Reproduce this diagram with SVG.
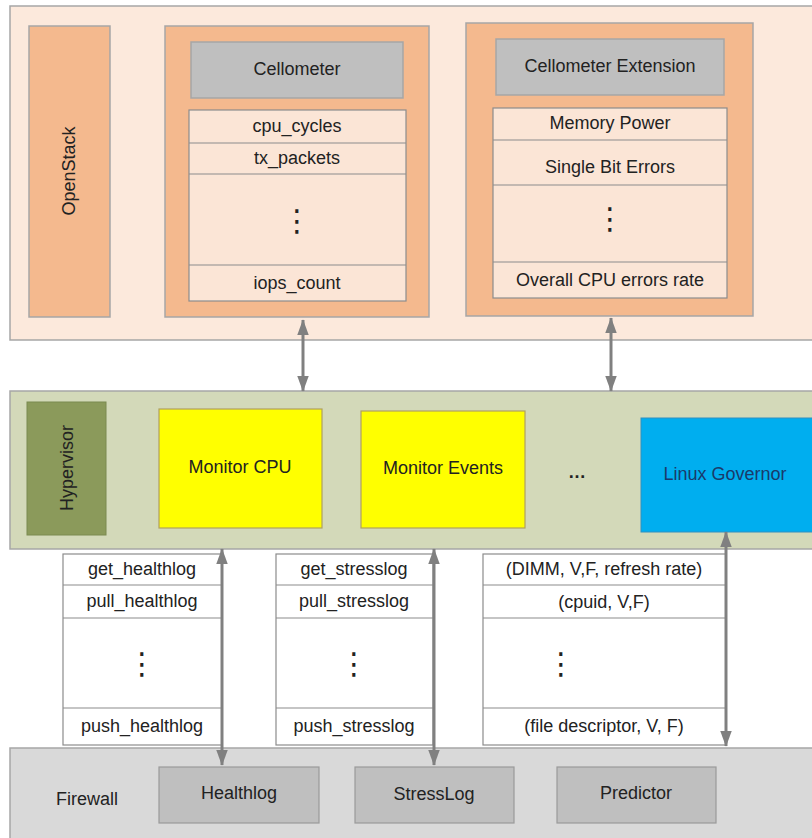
<svg xmlns="http://www.w3.org/2000/svg" width="812" height="838" viewBox="0 0 812 838">
<defs>
<marker id="ah" markerUnits="userSpaceOnUse" markerWidth="16" markerHeight="22" viewBox="0 0 22 16" refX="21" refY="8" orient="auto-start-reverse">
<path d="M0,0 L22,8 L0,16 Z" fill="#808080"/>
</marker>
</defs>
<style>
text{font-family:"Liberation Sans",Arial,sans-serif;font-size:18px;fill:#222;text-anchor:middle;dominant-baseline:central}
.dots{font-family:"DejaVu Sans",sans-serif;font-size:30px}
.layer{stroke:#a6a6a6;stroke-width:1.5}
.org{fill:#f4b98e;stroke:#a6a6a6;stroke-width:1.5}
.hdr{fill:#bfbfbf;stroke:#a6a6a6;stroke-width:1.5}
.lst{fill:#fbe5d6;stroke:#8c8c8c;stroke-width:1.2}
.wl{fill:#ffffff;stroke:#8c8c8c;stroke-width:1.2}
.sep{stroke:#8c8c8c;stroke-width:1.2}
.mon{fill:#ffff00;stroke:#b0a060;stroke-width:1.2}
.fw{fill:#bfbfbf;stroke:#9a9a9a;stroke-width:1.2}
.con{stroke:#808080;stroke-width:3;fill:none;marker-start:url(#ah);marker-end:url(#ah)}
</style>
<rect width="812" height="838" fill="#ffffff"/>

<g id="openstack-layer">
<rect class="layer" x="10" y="6" width="810" height="334" fill="#fce9dc"/>
</g>
<g id="openstack-label">
<rect class="org" x="29" y="26" width="81" height="291"/>
<text x="69" y="171" transform="rotate(-90 69 171)">OpenStack</text>
</g>
<g id="cellometer">
<rect class="org" x="165" y="26" width="264" height="291"/>
<rect class="hdr" x="191" y="42" width="212" height="56"/>
<text x="297" y="69">Cellometer</text>
<rect class="lst" x="189" y="110" width="217" height="191"/>
<line class="sep" x1="189" y1="143" x2="406" y2="143"/>
<line class="sep" x1="189" y1="174" x2="406" y2="174"/>
<line class="sep" x1="189" y1="265" x2="406" y2="265"/>
<text x="297" y="126">cpu_cycles</text>
<text x="297" y="158">tx_packets</text>
<text class="dots" x="297" y="220">⋮</text>
<text x="297" y="283">iops_count</text>
</g>
<g id="cellometer-extension">
<rect class="org" x="466" y="23" width="287" height="293"/>
<rect class="hdr" x="496" y="39" width="228" height="56"/>
<text x="610" y="66">Cellometer Extension</text>
<rect class="lst" x="493" y="108" width="234" height="190"/>
<line class="sep" x1="493" y1="140" x2="727" y2="140"/>
<line class="sep" x1="493" y1="185" x2="727" y2="185"/>
<line class="sep" x1="493" y1="262" x2="727" y2="262"/>
<text x="610" y="123">Memory Power</text>
<text x="610" y="167">Single Bit Errors</text>
<text class="dots" x="610" y="218">⋮</text>
<text x="610" y="280">Overall CPU errors rate</text>
</g>

<g id="hypervisor-layer">
<rect class="layer" x="10" y="391" width="810" height="158" fill="#d3d9b9"/>
</g>
<g id="hypervisor-label">
<rect x="27" y="402" width="79" height="133" fill="#8b9a5b" stroke="#7a8a50" stroke-width="1"/>
<text x="67" y="468" transform="rotate(-90 67 468)">Hypervisor</text>
</g>
<g id="monitor-cpu">
<rect class="mon" x="159" y="409" width="163" height="119"/>
<text x="240" y="467">Monitor CPU</text>
</g>
<g id="monitor-events">
<rect class="mon" x="361" y="411" width="164" height="117"/>
<text x="443" y="468">Monitor Events</text>
</g>
<g id="ellipsis">
<text x="577" y="472" style="font-weight:bold">…</text>
</g>
<g id="linux-governor">
<rect x="641" y="418" width="175" height="114" fill="#00aeef" stroke="#3090c0" stroke-width="1"/>
<text x="725" y="474" style="fill:#1a3a6a">Linux Governor</text>
</g>

<g id="healthlog-api">
<rect class="wl" x="63" y="554" width="159" height="191"/>
<line class="sep" x1="63" y1="585" x2="222" y2="585"/>
<line class="sep" x1="63" y1="618" x2="222" y2="618"/>
<line class="sep" x1="63" y1="708" x2="222" y2="708"/>
<text x="142" y="569">get_healthlog</text>
<text x="142" y="601">pull_healthlog</text>
<text class="dots" x="142" y="663">⋮</text>
<text x="142" y="726">push_healthlog</text>
</g>
<g id="stresslog-api">
<rect class="wl" x="276" y="554" width="157" height="191"/>
<line class="sep" x1="276" y1="585" x2="433" y2="585"/>
<line class="sep" x1="276" y1="618" x2="433" y2="618"/>
<line class="sep" x1="276" y1="708" x2="433" y2="708"/>
<text x="354" y="569">get_stresslog</text>
<text x="354" y="601">pull_stresslog</text>
<text class="dots" x="354" y="663">⋮</text>
<text x="354" y="726">push_stresslog</text>
</g>
<g id="governor-api">
<rect class="wl" x="483" y="554" width="243" height="191"/>
<line class="sep" x1="483" y1="585" x2="726" y2="585"/>
<line class="sep" x1="483" y1="618" x2="726" y2="618"/>
<line class="sep" x1="483" y1="708" x2="726" y2="708"/>
<text x="604" y="569">(DIMM, V,F, refresh rate)</text>
<text x="604" y="602">(cpuid, V,F)</text>
<text class="dots" x="561" y="663">⋮</text>
<text x="604" y="726">(file descriptor, V, F)</text>
</g>

<g id="firewall-layer">
<rect class="layer" x="10" y="748" width="810" height="100" fill="#d9d9d9"/>
<text x="87" y="799">Firewall</text>
</g>
<g id="healthlog">
<rect class="fw" x="159" y="767" width="160" height="56"/>
<text x="239" y="793">Healthlog</text>
</g>
<g id="stresslog">
<rect class="fw" x="355" y="767" width="159" height="56"/>
<text x="434" y="794">StressLog</text>
</g>
<g id="predictor">
<rect class="fw" x="557" y="767" width="159" height="56"/>
<text x="636" y="793">Predictor</text>
</g>

<g id="connectors">
<line class="con" x1="303" y1="320" x2="303" y2="391"/>
<line class="con" x1="611" y1="318" x2="611" y2="391"/>
<line class="con" x1="222" y1="549" x2="222" y2="765"/>
<line class="con" x1="434" y1="549" x2="434" y2="765"/>
<line class="con" x1="726" y1="532" x2="726" y2="746"/>
</g>
</svg>
